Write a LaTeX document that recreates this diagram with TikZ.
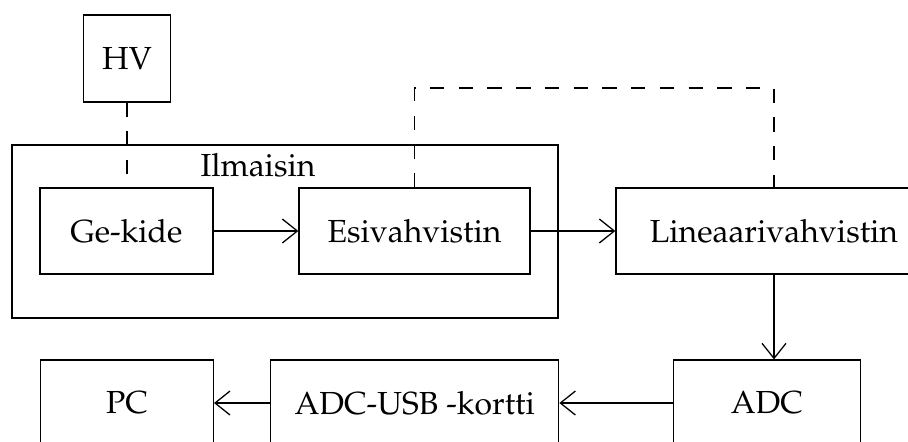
\documentclass[tikz,border=0pt]{standalone}
\usepackage[T1]{fontenc}
\usepackage{mathpazo}
\usetikzlibrary{arrows.meta}

\begin{document}
\begin{tikzpicture}[
    block/.style={draw, inner sep=0pt, minimum height=0.947cm},
    signal/.style={dash pattern=on 4.5pt off 4.5pt},
    >={Straight Barb[length=4.7pt,width=7.5pt]}
  ]
  \useasboundingbox (0,0) rectangle (10,4.857);
  % detector enclosure
  \node[draw, inner sep=0pt, minimum width=6.013cm, minimum height=1.905cm] (det) at (3.139,2.307) {};
  \node[anchor=base] (detname) at (2.841,2.911) {Ilmaisin};
  % upper row
  \node[block, minimum width=0.958cm, minimum height=0.958cm] (hv) at (1.399,4.213) {HV};
  \node[block, minimum width=1.905cm] (ge) at (1.393,2.313) {Ge-kide};
  \node[block, minimum width=2.544cm] (esi) at (4.565,2.313) {Esivahvistin};
  \node[block, minimum width=3.48cm] (lin) at (8.524,2.313) {Lineaarivahvistin};
  % lower row
  \node[block, minimum width=1.901cm] (pc) at (1.399,0.4185) {PC};
  \node[block, minimum width=3.172cm] (usb) at (4.567,0.4185) {ADC-USB -kortti};
  \node[block, minimum width=2.059cm] (adc) at (8.445,0.4185) {ADC};
  \coordinate (top) at (0,3.888);
  \path[->]
  (ge) edge (esi)
  (esi) edge (lin)
  (lin.south) edge (lin.south |- adc.north)
  (adc) edge (usb)
  (usb) edge (pc)
  ;
  \draw[signal] (hv.south) -- (hv.south |- ge.north);
  \draw[signal] (esi.north) -- (esi.north |- top) -- (lin.north |- top) -- (lin.north);
\end{tikzpicture}
\end{document}
